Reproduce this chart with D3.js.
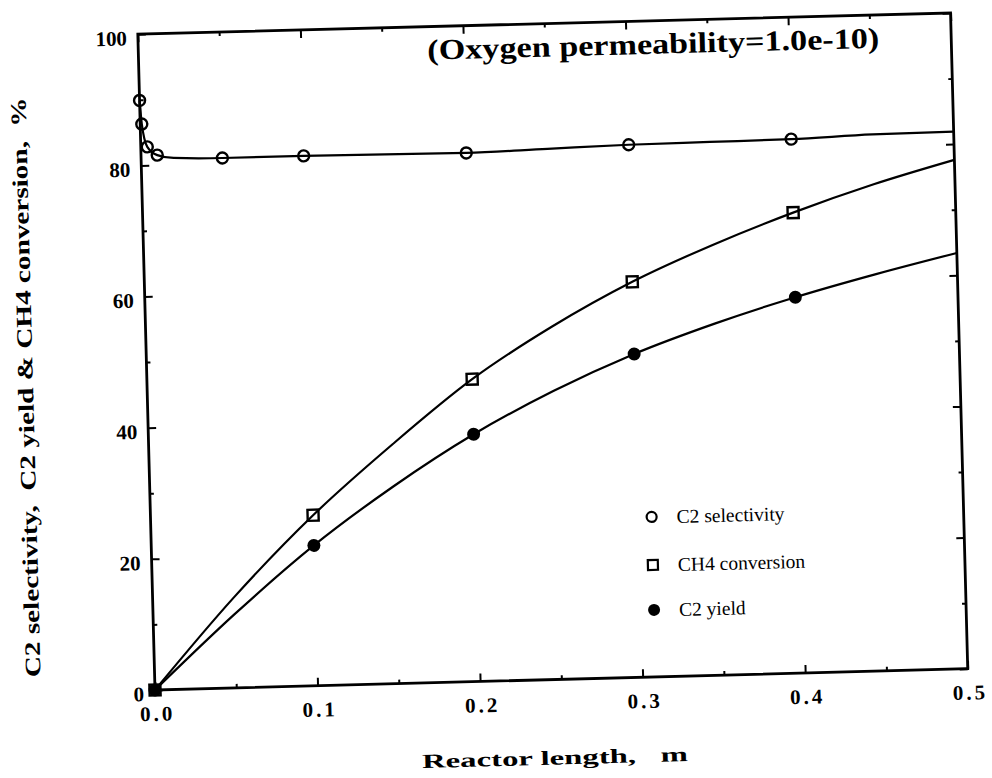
<!DOCTYPE html>
<html>
<head>
<meta charset="utf-8">
<script src="https://cdn.jsdelivr.net/npm/d3@7"></script>
<style>
  html, body { margin: 0; padding: 0; background: #fff; }
  svg { display: block; }
  text { font-family: "Liberation Serif", "Times New Roman", serif; fill: #000; }
</style>
</head>
<body>
<svg id="chart" width="992" height="778"></svg>
<script>
// ---- data ----
const xTickValues = [0, 0.1, 0.2, 0.3, 0.4, 0.5];
const xTickLabels = ["0.0", "0.1", "0.2", "0.3", "0.4", "0.5"];
const xMinorTicks = [0.05, 0.15, 0.25, 0.35, 0.45];
const yTickValues = [0, 20, 40, 60, 80, 100];
const yTickLabels = ["0", "20", "40", "60", "80", "100"];
const yMinorTicks = [10, 30, 50, 70, 90];

// C2 selectivity: markers and model curve
const selMarkX = [0, 0.001, 0.004, 0.01, 0.05, 0.1, 0.2, 0.3, 0.4];
const selMarkY = [89.9, 86.3, 82.8, 81.5, 80.8, 80.8, 80.6, 81.2, 81.4];
const selCurveX = [0, 0.001, 0.004, 0.01, 0.02, 0.05, 0.1, 0.15, 0.2, 0.25, 0.3, 0.35, 0.4, 0.45, 0.5];
const selCurveY = [89.9, 86.3, 82.8, 81.5, 81.0, 80.8, 80.8, 80.7, 80.6, 80.9, 81.2, 81.3, 81.4, 81.8, 81.9];

// CH4 conversion
const ch4MarkX = [0, 0.1, 0.2, 0.3, 0.4];
const ch4MarkY = [0, 26.0, 46.1, 60.3, 70.2];
const ch4CurveX = [0, 0.05, 0.1, 0.15, 0.2, 0.25, 0.3, 0.35, 0.4, 0.45, 0.5];
const ch4CurveY = [0, 13.8, 26.0, 36.5, 46.1, 53.8, 60.3, 65.6, 70.2, 74.2, 77.6];

// C2 yield
const yldMarkX = [0, 0.1, 0.2, 0.3, 0.4];
const yldMarkY = [0, 21.4, 37.7, 49.3, 57.3];
const yldCurveX = [0, 0.05, 0.1, 0.15, 0.2, 0.25, 0.3, 0.35, 0.4, 0.45, 0.5];
const yldCurveY = [0, 11.2, 21.4, 30.1, 37.7, 44.0, 49.3, 53.6, 57.3, 60.5, 63.4];

const legendLabels = ["C2 selectivity", "CH4 conversion", "C2 yield"];
const titleText = "(Oxygen permeability=1.0e-10)";
const xTitle = "Reactor length,   m";
const yTitle = "C2 selectivity,  C2 yield & CH4 conversion,  %";

// ---- layout ----
const W = 813, H = 656;
const originX = 155, originY = 690;   // bottom-left corner of the frame
const tilt = -1.5;                    // the scanned figure is slightly rotated

const svg = d3.select("#chart");
const g = svg.append("g")
  .attr("transform", `translate(${originX},${originY}) rotate(${tilt}) translate(0,${-H})`);

const x = d3.scaleLinear().domain([0, 0.5]).range([0, W]);
const y = d3.scaleLinear().domain([0, 100]).range([H, 0]);

const zip = (a, b) => a.map((v, i) => [v, b[i]]);

// frame
g.append("rect").attr("x", 0).attr("y", 0).attr("width", W).attr("height", H)
  .attr("fill", "none").attr("stroke", "#000").attr("stroke-width", 2.8);

function styleAxis(sel) {
  sel.select(".domain").remove();
  sel.selectAll(".tick line").attr("stroke", "#000").attr("stroke-width", 2);
}

// major / minor ticks, all four sides, pointing inward
const bottom = g.append("g").attr("transform", `translate(0,${H})`)
  .call(d3.axisBottom(x).tickValues(xTickValues).tickSize(-8).tickPadding(16)
    .tickFormat((d, i) => xTickLabels[i]));
styleAxis(bottom);
bottom.selectAll("text").style("font-size", "21px").style("font-weight", "bold")
  .style("letter-spacing", "3px").attr("dx", "1.5px");

g.append("g").attr("transform", `translate(0,${H})`)
  .call(d3.axisBottom(x).tickValues(xMinorTicks).tickSize(-4).tickFormat(""))
  .call(styleAxis);

g.append("g")
  .call(d3.axisTop(x).tickValues(xTickValues).tickSize(-8).tickFormat(""))
  .call(styleAxis);
g.append("g")
  .call(d3.axisTop(x).tickValues(xMinorTicks).tickSize(-4).tickFormat(""))
  .call(styleAxis);

const left = g.append("g")
  .call(d3.axisLeft(y).tickValues(yTickValues).tickSize(-8).tickPadding(11)
    .tickFormat((d, i) => yTickLabels[i]));
styleAxis(left);
left.selectAll("text").style("font-size", "21px").style("font-weight", "bold").attr("dy", "0.5em");

g.append("g")
  .call(d3.axisLeft(y).tickValues(yMinorTicks).tickSize(-4).tickFormat(""))
  .call(styleAxis);
g.append("g").attr("transform", `translate(${W},0)`)
  .call(d3.axisRight(y).tickValues(yTickValues).tickSize(-8).tickFormat(""))
  .call(styleAxis);
g.append("g").attr("transform", `translate(${W},0)`)
  .call(d3.axisRight(y).tickValues(yMinorTicks).tickSize(-4).tickFormat(""))
  .call(styleAxis);

// curves
const line = d3.line().x(d => x(d[0])).y(d => y(d[1])).curve(d3.curveMonotoneX);
[[selCurveX, selCurveY], [ch4CurveX, ch4CurveY], [yldCurveX, yldCurveY]].forEach(([cx, cy]) => {
  g.append("path").datum(zip(cx, cy)).attr("d", line)
    .attr("fill", "none").attr("stroke", "#000").attr("stroke-width", 2.2);
});

// markers
g.selectAll("circle.sel").data(zip(selMarkX, selMarkY)).join("circle")
  .attr("class", "sel").attr("cx", d => x(d[0])).attr("cy", d => y(d[1])).attr("r", 5.5)
  .attr("fill", "none").attr("stroke", "#000").attr("stroke-width", 2.4);

const sq = 11;
g.selectAll("rect.ch4").data(zip(ch4MarkX, ch4MarkY)).join("rect")
  .attr("class", "ch4").attr("x", d => x(d[0]) - sq / 2).attr("y", d => y(d[1]) - sq / 2)
  .attr("width", sq).attr("height", sq)
  .attr("fill", "none").attr("stroke", "#000").attr("stroke-width", 2.4);

g.selectAll("circle.yld").data(zip(yldMarkX, yldMarkY)).join("circle")
  .attr("class", "yld").attr("cx", d => x(d[0])).attr("cy", d => y(d[1])).attr("r", 6.5)
  .attr("fill", "#000");

// legend
const leg = g.append("g").attr("transform", "translate(501,0)");
const legRows = [496, 544, 589];
leg.append("circle").attr("cx", 0).attr("cy", legRows[0]).attr("r", 5)
  .attr("fill", "none").attr("stroke", "#000").attr("stroke-width", 2.2);
leg.append("rect").attr("x", -5).attr("y", legRows[1] - 5).attr("width", 10).attr("height", 10)
  .attr("fill", "none").attr("stroke", "#000").attr("stroke-width", 2.2);
leg.append("circle").attr("cx", 0).attr("cy", legRows[2]).attr("r", 6).attr("fill", "#000");
legendLabels.forEach((t, i) => {
  leg.append("text").attr("x", 25).attr("y", legRows[i]).attr("dy", "0.35em")
    .style("font-size", "19.5px").text(t);
});

// title inside the frame
g.append("text").attr("x", 289).attr("y", 33)
  .attr("textLength", 452).attr("lengthAdjust", "spacingAndGlyphs")
  .style("font-size", "29px").style("font-weight", "bold").text(titleText);

// axis titles
g.append("text").attr("x", 398).attr("y", 741).attr("text-anchor", "middle")
  .attr("xml:space", "preserve").style("white-space", "pre")
  .attr("textLength", 266).attr("lengthAdjust", "spacingAndGlyphs")
  .style("font-size", "20px").style("font-weight", "bold")
  .text(xTitle);

g.append("text").attr("transform", "translate(-114,350) rotate(-90)")
  .attr("text-anchor", "middle").attr("xml:space", "preserve").style("white-space", "pre")
  .attr("textLength", 580).attr("lengthAdjust", "spacingAndGlyphs")
  .style("font-size", "22px").style("font-weight", "bold")
  .text(yTitle);
</script>
</body>
</html>
